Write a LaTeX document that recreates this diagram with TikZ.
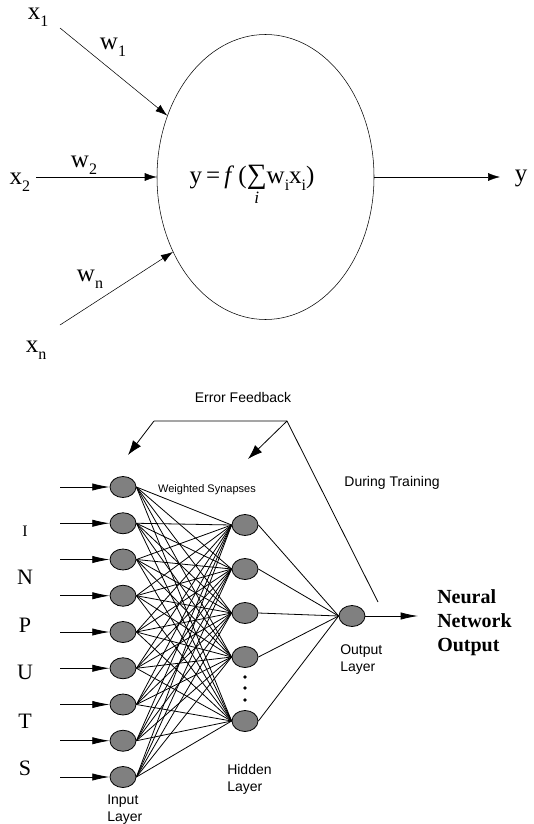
\documentclass[tikz,border=0pt]{standalone}
\usepackage{fontspec}
\setmainfont{Liberation Serif}
\setsansfont{Liberation Sans}
\usetikzlibrary{shapes.geometric,arrows.meta}
\newcommand{\lsub}[1]{\raisebox{-5pt}{\fontsize{12}{12}\selectfont #1}}
\newcommand{\bigsum}[1]{\(\mathop{\hbox{\fontsize{21}{21}\selectfont ∑}}\limits_{\hbox{\fontsize{13}{13}\selectfont\itshape #1}}\)}

\begin{document}
\begin{tikzpicture}[x=0.75pt,y=-0.75pt,
    lbl/.style={font=\fontsize{18.75}{20}\selectfont, inner sep=0pt},
    letter/.style={font=\fontsize{16.5}{18}\selectfont, inner sep=0pt},
    sans/.style={font=\sffamily\fontsize{10.5}{12.75}\selectfont, inner sep=0pt, align=left},
    cell/.style={ellipse, draw, fill=gray, minimum width=19.5pt, minimum height=15.75pt, inner sep=0pt},
    arr/.style={-{Latex[length=9pt,width=6pt]}},
    inarr/.style={-{Latex[length=13pt,width=5.5pt]}},
    fbarr/.style={-{Latex[length=11pt,width=7.5pt]}}]
  \useasboundingbox (0,0) rectangle (533,824);

  % single neuron
  \node[ellipse, draw, minimum width=162.75pt, minimum height=213.75pt, inner sep=0pt] (neuron) at (265.5,177) {};
  \node[lbl] (fx) at (252,185) {y\,=\,\textit{f}\,(\bigsum{i}w\lsub{i}x\lsub{i})};
  \node[lbl] (x1) at (38,17) {x\lsub{1}};
  \node[lbl] (w1) at (113,47) {w\lsub{1}};
  \node[lbl] (x2) at (20,182) {x\lsub{2}};
  \node[lbl] (w2) at (84,165) {w\lsub{2}};
  \node[lbl] (wn) at (90,279) {w\lsub{n}};
  \node[lbl] (xn) at (36,350) {x\lsub{n}};
  \node[lbl] (y) at (521,178) {y};
  \coordinate (s1) at (60,28);
  \coordinate (s2) at (36,177);
  \coordinate (sn) at (60,325);
  \coordinate (yend) at (500,177);
  \draw[arr] (s1) -- (neuron.148);
  \draw[arr] (s2) -- (neuron.west);
  \draw[arr] (sn) -- (neuron.219);
  \draw[arr] (neuron.east) -- (yend);

  % network
  \begin{scope}[line width=0.6pt]
    \foreach \i in {1,...,9}{
      \pgfmathsetmacro{\yy}{487+36.25*(\i-1)}
      \node[cell] (in\i) at (123,\yy) {};
      \coordinate (src\i) at (60,\yy);
      \draw[inarr] (src\i) -- (in\i);
    }
    \foreach \j/\yy in {1/525,2/569,3/613,4/657,5/721}
      \node[cell] (hid\j) at (245,\yy) {};
    \node[cell] (out) at (352,616) {};
    \foreach \i in {1,...,9}
      \foreach \j in {1,...,5}
        \draw (in\i.east) -- (hid\j.west);
    \foreach \j in {1,...,5}
      \draw (hid\j.east) -- (out.west);
    \foreach \d in {677,688,700}
      \fill (245,\d) circle (1.8);
    \coordinate (oend) at (418,616);
    \draw[inarr] (out.east) -- (oend);

    % feedback
    \coordinate (fa) at (154,421);
    \coordinate (fb) at (287,421);
    \coordinate (ta) at (128,455);
    \coordinate (tb) at (248,459);
    \coordinate (fe) at (378,602);
    \draw (fa) -- (fb) -- (fe);
    \draw[fbarr] (fa) -- (ta);
    \draw[fbarr] (fb) -- (tb);
  \end{scope}

  \node[sans] (err) at (243,397) {Error Feedback};
  \node[sans] (train) at (392,483) {During Training};
  \node[sans, font=\sffamily\fontsize{8.25}{10}\selectfont] (syn) at (207,490) {Weighted Synapses};
  \node[sans, anchor=west] (outlbl) at (340,660) {Output\\Layer};
  \node[sans, anchor=west] (hidlbl) at (227,779) {Hidden\\Layer};
  \node[sans, anchor=west] (inlbl) at (107,810) {Input\\Layer};
  \node[anchor=west, inner sep=0pt, align=left, font=\bfseries\fontsize{15}{18}\selectfont] (nno) at (437,623) {Neural\\Network\\Output};

  \node[letter, font=\fontsize{12}{14}\selectfont] (lI) at (25,531) {I};
  \node[letter] (lN) at (25,577) {N};
  \node[letter] (lP) at (25,625) {P};
  \node[letter] (lU) at (25,672) {U};
  \node[letter] (lT) at (25,721) {T};
  \node[letter] (lS) at (25,768) {S};
\end{tikzpicture}
\end{document}
